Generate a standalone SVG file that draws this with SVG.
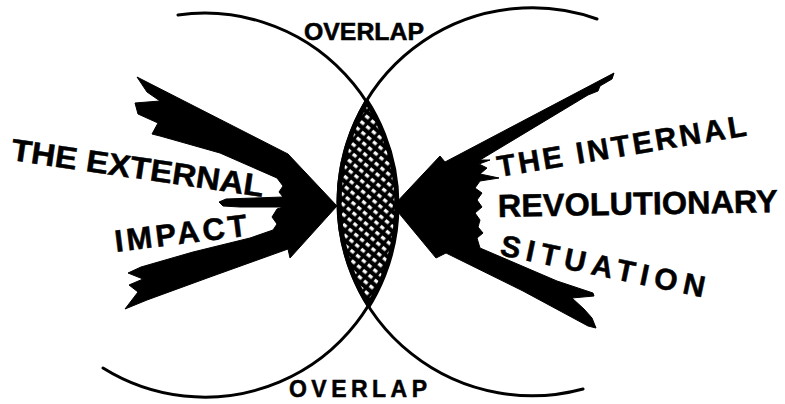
<svg xmlns="http://www.w3.org/2000/svg" width="785" height="404" viewBox="0 0 785 404">
<style>
.lbl{font-family:"Liberation Sans",Arial,sans-serif;font-weight:bold;fill:#000;stroke:#000;stroke-width:0.5}
.arc{fill:none;stroke:#000;stroke-width:3;stroke-linecap:round}
.ink{fill:#000;stroke:#000;stroke-width:1;stroke-linejoin:round}
</style>
<defs>
<pattern id="hatch" width="7.5" height="7.5" patternUnits="userSpaceOnUse" patternTransform="rotate(40)">
<rect width="7.5" height="7.5" fill="#000"/>
<rect x="1.8" y="2" width="4.4" height="3.2" fill="#fff"/>
</pattern>
<clipPath id="cL"><circle cx="205" cy="205" r="192"/></clipPath>
<clipPath id="cR"><circle cx="533" cy="202" r="194"/></clipPath>
</defs>
<rect width="785" height="404" fill="#fff"/>
<g id="lens">
<circle cx="205" cy="205" r="192" fill="url(#hatch)" clip-path="url(#cR)"/>
<circle cx="205" cy="205" r="192" fill="none" stroke="#000" stroke-width="5" clip-path="url(#cR)"/>
<circle cx="533" cy="202" r="194" fill="none" stroke="#000" stroke-width="5" clip-path="url(#cL)"/>
</g>
<g id="circles">
<path class="arc" d="M178,15 A192,192 0 1 1 103,368"/>
<path class="arc" d="M597,19 A194,194 0 1 0 583,389"/>
</g>
<g id="connectors">
<path class="ink" d="M137,77 L284,152 L288,154 L337,206 L290,258 L288,249 L210,277 L147,300 L125,309 L138,292 L129,285 L143,279 L128,273 L141,267 L193,252 L250,238 L273,230 L277,224 L272,217 L277,209 L283,207 L240,207 L223,206 L219,202 L226,199 L283,197 L279,192 L283,186 L277,178 L220,153 L160,136 L152,134 L158,123 L138,114 L135,103 L160,101 L147,92 Z"/>
<path class="ink" d="M614,73 L445,162 L440,156 L393,206 L436,258 L446,253 L523,291 L588,326 L596,328 L592,318 L584,309 L572,298 L594,296 L593,293 L557,281 L480,248 L477,238 L483,233 L478,227 L480,220 L475,213 L482,207 L477,200 L482,193 L475,188 L480,181 L499,178 L480,174 L487,168 L479,164 L490,160 L480,160 L588,95 L598,91 L600,86 L612,79 Z"/>
</g>
<g id="overlap-top"><text class="lbl" x="304" y="40" font-size="23" textLength="120" lengthAdjust="spacingAndGlyphs">OVERLAP</text></g>
<g id="overlap-bottom"><text class="lbl" x="289" y="397" font-size="23" textLength="138" lengthAdjust="spacing">OVERLAP</text></g>
<g id="external">
<text class="lbl" font-size="31" textLength="255" lengthAdjust="spacingAndGlyphs" transform="translate(10,160) rotate(8.3)">THE EXTERNAL</text>
<text class="lbl" font-size="31" textLength="133" lengthAdjust="spacing" transform="translate(116,252) rotate(-7)">IMPACT</text>
</g>
<g id="internal">
<text class="lbl" font-size="30" textLength="252" lengthAdjust="spacing" transform="translate(499,177) rotate(-9.5)">THE INTERNAL</text>
<text class="lbl" font-size="32" textLength="280" lengthAdjust="spacingAndGlyphs" transform="translate(498,217) rotate(-1)">REVOLUTIONARY</text>
<text class="lbl" font-size="30" textLength="208" lengthAdjust="spacing" transform="translate(499,255) rotate(11.8)">SITUATION</text>
</g>
</svg>
